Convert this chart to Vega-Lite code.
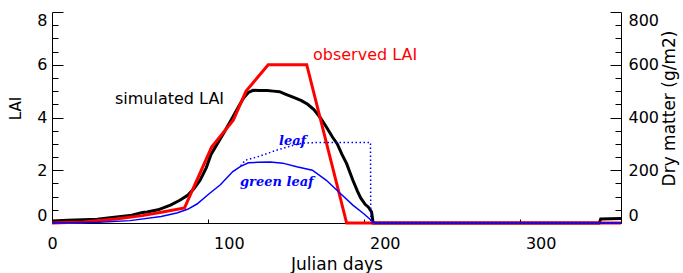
{
  "$schema": "https://vega.github.io/schema/vega-lite/v6.json",
  "width": 569,
  "height": 211,
  "autosize": "none",
  "padding": {"left": 52, "top": 12, "right": 62, "bottom": 50},
  "background": "white",
  "config": {
    "view": {"stroke": null},
    "font": "DejaVu Sans",
    "axis": {
      "grid": false, "domainColor": "black", "tickColor": "black", "labelColor": "black", "titleColor": "black",
      "labelFont": "DejaVu Sans", "labelFontSize": 16, "titleFont": "DejaVu Sans", "titleFontWeight": "normal"
    }
  },
  "datasets": {
    "simulated": [
      {"day": 0, "lai": 0.08}, {"day": 10, "lai": 0.1}, {"day": 20, "lai": 0.12}, {"day": 29, "lai": 0.14},
      {"day": 40, "lai": 0.22}, {"day": 50, "lai": 0.28}, {"day": 58, "lai": 0.4}, {"day": 61, "lai": 0.42},
      {"day": 68, "lai": 0.5}, {"day": 76, "lai": 0.68}, {"day": 82, "lai": 0.86}, {"day": 87, "lai": 1.05},
      {"day": 91, "lai": 1.3}, {"day": 95, "lai": 1.62}, {"day": 99, "lai": 2.1}, {"day": 102, "lai": 2.6},
      {"day": 106, "lai": 3.0}, {"day": 110, "lai": 3.39}, {"day": 116, "lai": 4.02}, {"day": 120, "lai": 4.45},
      {"day": 123, "lai": 4.75}, {"day": 126, "lai": 4.95}, {"day": 129, "lai": 5.03}, {"day": 133, "lai": 5.02},
      {"day": 138, "lai": 5.02}, {"day": 142, "lai": 5.0}, {"day": 146, "lai": 4.98}, {"day": 150, "lai": 4.88},
      {"day": 155, "lai": 4.76}, {"day": 160, "lai": 4.64}, {"day": 164, "lai": 4.5}, {"day": 168, "lai": 4.3},
      {"day": 172, "lai": 4.0}, {"day": 176, "lai": 3.64}, {"day": 180, "lai": 3.25}, {"day": 183, "lai": 3.0},
      {"day": 186, "lai": 2.6}, {"day": 189, "lai": 2.25}, {"day": 193, "lai": 1.62}, {"day": 196, "lai": 1.2},
      {"day": 198, "lai": 0.95}, {"day": 201, "lai": 0.7}, {"day": 203, "lai": 0.6}, {"day": 205, "lai": 0.42},
      {"day": 206, "lai": 0.0}, {"day": 351, "lai": 0.0}, {"day": 352, "lai": 0.15}, {"day": 365, "lai": 0.17}
    ],
    "observed": [
      {"day": 0, "lai": 0.0}, {"day": 20, "lai": 0.04}, {"day": 41, "lai": 0.15}, {"day": 58, "lai": 0.28},
      {"day": 71, "lai": 0.42}, {"day": 85, "lai": 0.57}, {"day": 102.4, "lai": 2.88}, {"day": 116.3, "lai": 3.9},
      {"day": 124.5, "lai": 5.0}, {"day": 138.7, "lai": 6.0}, {"day": 163.4, "lai": 6.0}, {"day": 189, "lai": 0.0},
      {"day": 365, "lai": 0.0}
    ],
    "greenleaf": [
      {"day": 0, "dm": 0}, {"day": 30, "dm": 3}, {"day": 50, "dm": 9}, {"day": 70, "dm": 25}, {"day": 80, "dm": 38},
      {"day": 87, "dm": 52}, {"day": 93, "dm": 72}, {"day": 101, "dm": 112}, {"day": 108, "dm": 145},
      {"day": 116, "dm": 195}, {"day": 121, "dm": 215}, {"day": 126, "dm": 228}, {"day": 132, "dm": 230},
      {"day": 140, "dm": 231}, {"day": 148, "dm": 227}, {"day": 157, "dm": 213}, {"day": 167, "dm": 200},
      {"day": 176, "dm": 162}, {"day": 185, "dm": 112}, {"day": 193, "dm": 68}, {"day": 200, "dm": 35},
      {"day": 206, "dm": 4}, {"day": 207, "dm": 0}, {"day": 365, "dm": 0}
    ],
    "leaf": [
      {"day": 121, "dm": 217}, {"day": 124, "dm": 238}, {"day": 133, "dm": 253}, {"day": 144, "dm": 276},
      {"day": 155, "dm": 295}, {"day": 161, "dm": 303}, {"day": 170, "dm": 305}, {"day": 204.3, "dm": 305},
      {"day": 204.5, "dm": 0}, {"day": 365, "dm": 0}
    ],
    "laiNotes": [
      {"day": 40.4, "lai": 4.69, "label": "simulated LAI", "series": "simulated"},
      {"day": 167.4, "lai": 6.36, "label": "observed LAI", "series": "observed"}
    ],
    "dmNotes": [
      {"day": 145.6, "dm": 310, "label": "leaf"},
      {"day": 120.6, "dm": 154, "label": "green leaf"}
    ]
  },
  "encoding": {
    "x": {
      "field": "day", "type": "quantitative",
      "scale": {"domain": [0, 365], "nice": false, "zero": false},
      "axis": {
        "values": [0, 100, 200, 300], "title": "Julian days",
        "tickSize": -4, "labelPadding": 16, "labelFlush": false,
        "labelOffset": {"condition": {"test": "datum.value == 0", "value": 0}, "value": 21},
        "titleFontSize": 17, "titlePadding": 5
      }
    }
  },
  "layer": [
    {
      "encoding": {
        "y": {
          "field": "lai", "type": "quantitative",
          "scale": {"domain": [0, 8], "nice": false},
          "axis": {
            "orient": "left", "title": "LAI", "format": "d", "values": [0, 2, 4, 6, 8],
            "tickSize": -11, "labelPadding": 16, "labelFlush": true,
            "titleFontSize": 15, "titlePadding": 13, "titleY": 96
          }
        }
      },
      "layer": [
        {"data": {"name": "simulated"}, "mark": {"type": "line", "color": "black", "strokeWidth": 3, "clip": false}},
        {"data": {"name": "laiNotes"}, "transform": [{"filter": "datum.series == 'simulated'"}],
         "mark": {"type": "text", "align": "left", "baseline": "middle", "font": "DejaVu Sans", "fontSize": 16, "color": "black"},
         "encoding": {"text": {"field": "label"}}},
        {"data": {"name": "laiNotes"}, "transform": [{"filter": "datum.series == 'observed'"}],
         "mark": {"type": "text", "align": "left", "baseline": "middle", "font": "DejaVu Sans", "fontSize": 16, "color": "#ff0000"},
         "encoding": {"text": {"field": "label"}}}
      ]
    },
    {
      "data": {"name": "observed"},
      "mark": {"type": "line", "color": "#ff0000", "strokeWidth": 3, "clip": false},
      "encoding": {
        "y": {
          "field": "lai", "type": "quantitative",
          "scale": {"domain": [0, 8], "nice": false},
          "axis": {
            "orient": "left", "title": null, "labels": false, "domain": false,
            "values": [0.5, 1, 1.5, 2.5, 3, 3.5, 4.5, 5, 5.5, 6.5, 7, 7.5],
            "tickSize": -6
          }
        }
      }
    },
    {
      "encoding": {
        "y": {
          "field": "dm", "type": "quantitative",
          "scale": {"domain": [0, 800], "nice": false},
          "axis": {
            "orient": "right", "title": "Dry matter (g/m2)", "values": [0, 200, 400, 600, 800],
            "tickSize": -11, "labelPadding": 18, "labelFlush": true,
            "titleFontSize": 17, "titlePadding": 3, "titleAngle": 270, "titleBaseline": "top", "titleY": 96
          }
        }
      },
      "layer": [
        {"data": {"name": "greenleaf"}, "mark": {"type": "line", "color": "#0000ff", "strokeWidth": 1.5, "clip": false}},
        {"data": {"name": "dmNotes"},
         "mark": {"type": "text", "align": "left", "baseline": "middle", "font": "DejaVu Serif", "fontStyle": "italic", "fontWeight": "bold", "fontSize": 13, "color": "#0000ff"},
         "encoding": {"text": {"field": "label"}}}
      ]
    },
    {
      "data": {"name": "leaf"},
      "mark": {"type": "line", "color": "#0000ff", "strokeWidth": 1.5, "strokeDash": [1.5, 2.5], "clip": false},
      "encoding": {
        "y": {
          "field": "dm", "type": "quantitative",
          "scale": {"domain": [0, 800], "nice": false},
          "axis": {
            "orient": "right", "title": null, "labels": false, "domain": false,
            "values": [50, 100, 150, 250, 300, 350, 450, 500, 550, 650, 700, 750],
            "tickSize": -6
          }
        }
      }
    }
  ],
  "resolve": {"scale": {"y": "independent"}}
}
